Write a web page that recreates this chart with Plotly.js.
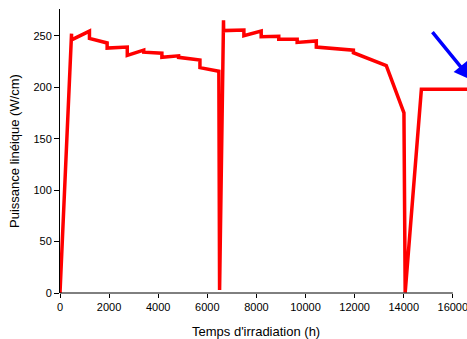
<!DOCTYPE html>
<html>
<head>
<meta charset="utf-8">
<script src="https://cdn.plot.ly/plotly-3.0.1.min.js"></script>
<style>html,body{margin:0;padding:0;background:#fff;}#chart{width:467px;height:339px;}</style>
</head>
<body>
<div id="chart"></div>
<script>
// Temps d'irradiation (h)
var hours = [0, 470, 470, 1200, 1200, 1920, 1920, 2740, 2740, 3410, 3410, 4150, 4150, 4830, 4830, 5700, 5700, 6470, 6500, 6660, 6665, 7490, 7490, 8195, 8195, 8910, 8910, 9660, 9660, 10440, 10440, 11950, 11950, 13290, 14000, 14010, 14060, 14720, 16600];
// Puissance linéique (W/cm)
var power = [0, 252, 246, 254.5, 247.5, 243, 238, 239, 231, 236, 234, 233, 229, 230.5, 229, 226.5, 219, 215.5, 3, 265, 255, 255.5, 250, 254.5, 249, 249.5, 246.5, 246.5, 243.5, 245, 239, 236, 233.5, 221, 176, 175, 0.5, 198, 198];
var xTicks = [0, 2000, 4000, 6000, 8000, 10000, 12000, 14000, 16000];
var yTicks = [0, 50, 100, 150, 200, 250];
// arrow (tail -> tip) in data units
var arrowTail = [15120, 255];
var arrowTip = [16760, 207];

var trace = {
  x: hours, y: power, type: 'scatter', mode: 'lines',
  line: {color: '#ff0000', width: 3.5},
  hoverinfo: 'none'
};
var xAxisEnd = xTicks[xTicks.length - 1];
var layout = {
  width: 467, height: 339,
  margin: {l: 60, r: 0, t: 9, b: 46},
  paper_bgcolor: '#fff', plot_bgcolor: '#fff',
  showlegend: false,
  font: {family: 'Liberation Sans, Arial, sans-serif', color: '#000', size: 11},
  xaxis: {
    range: [0, 16578], tickvals: xTicks, ticktext: xTicks.map(String),
    showgrid: false, zeroline: false, showline: false,
    ticks: 'outside', ticklen: 4, tickcolor: '#000',
    ticklabeloverflow: 'allow',
    tickfont: {size: 11, color: '#000'}
  },
  yaxis: {
    range: [0, 276], tickvals: yTicks, ticktext: yTicks.map(String),
    showgrid: false, zeroline: false, showline: true, linecolor: '#000', linewidth: 1,
    ticks: 'outside', ticklen: 5, tickcolor: '#000',
    tickfont: {size: 11, color: '#000'},
    title: {text: 'Puissance linéique (W/cm)', font: {size: 13, color: '#000'}, standoff: 10}
  },
  shapes: [{
    type: 'line', xref: 'x', yref: 'paper', x0: 0, x1: xAxisEnd, y0: 0, y1: 0,
    line: {color: '#000', width: 1}, layer: 'above'
  }],
  annotations: [{
    x: arrowTip[0], y: arrowTip[1], xref: 'x', yref: 'y',
    ax: arrowTail[0], ay: arrowTail[1], axref: 'x', ayref: 'y',
    text: '', showarrow: true, arrowhead: 2, arrowsize: 1, arrowwidth: 3.5,
    arrowcolor: '#0000ff'
  }, {
    x: xAxisEnd / 2, y: 0, xref: 'x', yref: 'paper', yanchor: 'middle', xanchor: 'center',
    yshift: -38, showarrow: false,
    text: "Temps d'irradiation (h)", font: {size: 13, color: '#000'}
  }]
};
Plotly.newPlot('chart', [trace], layout, {staticPlot: true, displayModeBar: false});
</script>
</body>
</html>
